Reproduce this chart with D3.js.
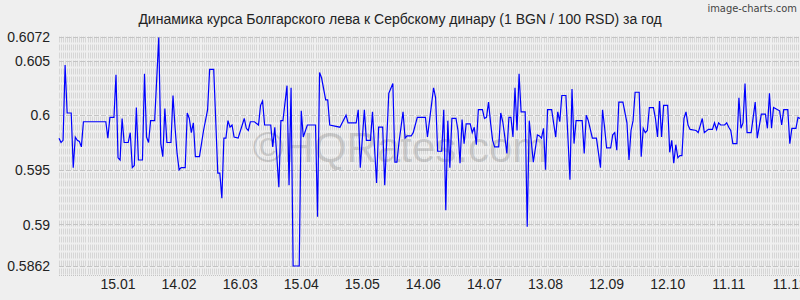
<!DOCTYPE html>
<html>
<head>
<meta charset="utf-8">
<script src="https://cdn.jsdelivr.net/npm/d3@7"></script>
<style>
  html, body { margin: 0; padding: 0; background: #efefef; }
  svg { display: block; font-family: "Liberation Sans", Arial, sans-serif; }
</style>
</head>
<body>
<div id="chart"></div>
<script>
// Курс BGN / 100 RSD, дневные данные за год (отсчёт в днях от 17.12.2014)
const startDate = "2014-12-17";
const endDate = "2015-12-16";

const dayIdx = [
  0, 1, 2, 3, 4, 6, 7, 8, 9, 10, 11, 12, 23, 24, 25, 27, 28, 29, 30, 31,
  32, 34, 35, 36, 37, 38, 39, 41, 42, 43, 44, 45, 47, 49, 50, 51, 52, 53, 55, 56,
  57, 58, 59, 60, 62, 63, 64, 65, 66, 67, 69, 71, 73, 74, 76, 78, 79, 80, 81, 82,
  83, 84, 85, 86, 88, 91, 92, 93, 94, 96, 98, 99, 100, 101, 104, 105, 106, 107, 108, 109,
  110, 112, 113, 114, 115, 118, 119, 120, 122, 126, 127, 128, 129, 131, 132, 133, 138, 141, 142, 146,
  147, 148, 150, 151, 153, 154, 156, 157, 159, 160, 162, 164, 165, 166, 167, 169, 170, 171, 173, 174,
  176, 180, 181, 184, 185, 186, 188, 189, 190, 191, 192, 193, 195, 196, 197, 198, 199, 200, 202, 203,
  204, 205, 206, 208, 209, 210, 211, 212, 213, 214, 216, 217, 218, 219, 220, 221, 222, 223, 224, 225,
  226, 227, 229, 230, 231, 233, 235, 236, 237, 238, 239, 240, 242, 244, 245, 246, 247, 249, 251, 252,
  253, 254, 257, 258, 259, 260, 262, 264, 266, 267, 268, 269, 271, 272, 273, 274, 275, 277, 279, 280,
  281, 282, 283, 285, 286, 287, 288, 289, 290, 292, 293, 294, 295, 296, 297, 299, 300, 301, 302, 303,
  304, 305, 306, 307, 308, 309, 310, 313, 314, 316, 317, 319, 321, 322, 323, 324, 325, 327, 328, 329,
  330, 331, 333, 334, 335, 336, 337, 338, 340, 342, 343, 345, 347, 348, 349, 350, 351, 353, 354, 355,
  356, 358, 359, 360, 362, 363, 364
];

const rates = [
  0.5979, 0.5975, 0.5977, 0.6046, 0.6002, 0.6002, 0.5952, 0.5980, 0.5977, 0.5976, 0.5971, 0.5994, 0.5994, 0.5979, 0.5998, 0.5998, 0.6037, 0.5961, 0.5959, 0.5997,
  0.5975, 0.5975, 0.5984, 0.5952, 0.5954, 0.6007, 0.5959, 0.5959, 0.6038, 0.5980, 0.5975, 0.5995, 0.5995, 0.6071, 0.5974, 0.5962, 0.6006, 0.5975, 0.5975, 0.6018,
  0.5989, 0.5965, 0.5950, 0.5952, 0.5952, 0.6002, 0.5997, 0.5984, 0.5993, 0.5962, 0.5962, 0.5986, 0.6005, 0.6042, 0.6042, 0.5947, 0.5947, 0.5924, 0.5979, 0.5979,
  0.5995, 0.5989, 0.5991, 0.5980, 0.5979, 0.5997, 0.5988, 0.5986, 0.5994, 0.5994, 0.5991, 0.6009, 0.6013, 0.5991, 0.5991, 0.5971, 0.5989, 0.5962, 0.5934, 0.5995,
  0.5995, 0.6027, 0.5936, 0.6025, 0.5862, 0.5862, 0.6004, 0.5980, 0.5991, 0.5991, 0.5907, 0.6039, 0.6034, 0.6014, 0.6014, 0.5991, 0.5989, 0.6000, 0.5993, 0.5993,
  0.6005, 0.5952, 0.6005, 0.5977, 0.5977, 0.6003, 0.5938, 0.5989, 0.5989, 0.5936, 0.6020, 0.6029, 0.5957, 0.5957, 0.5975, 0.6003, 0.5979, 0.5981, 0.5981, 0.5984,
  0.5998, 0.5998, 0.5980, 0.6025, 0.6016, 0.5967, 0.5967, 0.6005, 0.5913, 0.5995, 0.5952, 0.5997, 0.5997, 0.5986, 0.5956, 0.5996, 0.5974, 0.5992, 0.5992, 0.5984,
  0.5989, 0.5973, 0.6005, 0.6005, 0.5997, 0.5998, 0.6012, 0.5993, 0.5977, 0.5971, 0.5971, 0.6002, 0.5994, 0.5980, 0.5965, 0.5998, 0.5998, 0.5980, 0.6025, 0.5986,
  0.6038, 0.6003, 0.6003, 0.5898, 0.5995, 0.5957, 0.5982, 0.5981, 0.5979, 0.5988, 0.5950, 0.6005, 0.6005, 0.5980, 0.6003, 0.5994, 0.6018, 0.6018, 0.5941, 0.6024,
  0.5974, 0.5995, 0.5995, 0.5965, 0.6000, 0.5995, 0.5979, 0.5979, 0.5952, 0.6005, 0.5989, 0.5970, 0.5970, 0.5982, 0.5984, 0.5968, 0.6012, 0.6012, 0.5993, 0.5959,
  0.5986, 0.5995, 0.6021, 0.6021, 0.5962, 0.5988, 0.5984, 0.5986, 0.6007, 0.6007, 0.5997, 0.5980, 0.6013, 0.5980, 0.6009, 0.6009, 0.5966, 0.5977, 0.5956, 0.5973,
  0.5961, 0.5963, 0.5963, 0.5997, 0.6003, 0.5991, 0.5987, 0.5986, 0.5984, 0.5997, 0.5984, 0.5987, 0.5987, 0.5993, 0.5987, 0.5993, 0.5991, 0.5991, 0.5993, 0.5989,
  0.5986, 0.5974, 0.5974, 0.6016, 0.5988, 0.5993, 0.6029, 0.5984, 0.5984, 0.6012, 0.5979, 0.6001, 0.6001, 0.5988, 0.6020, 0.5988, 0.6007, 0.6005, 0.6004, 0.5991,
  0.6005, 0.6005, 0.5974, 0.5988, 0.5988, 0.5998, 0.5997
];

const yTicks = [0.5862, 0.59, 0.595, 0.6, 0.605, 0.6072];
const yTickLabels = ["0.5862", "0.59", "0.595", "0.6", "0.605", "0.6072"];
const xTickLabels = ["15.01", "14.02", "16.03", "15.04", "15.05", "14.06", "14.07", "13.08", "12.09", "12.10", "11.11", "11.12"];

const title = "Динамика курса Болгарского лева к Сербскому динару (1 BGN / 100 RSD) за год";
const watermark = "©HQRates.com";

const width = 800, height = 300;
const margin = { top: 36.5, right: 0, bottom: 34, left: 59 };
const gridBottom = 275;

const parseISO = d3.utcParse("%Y-%m-%d");
const parseLabel = d3.utcParse("%d.%m.%Y");
const t0 = parseISO(startDate);
const data = dayIdx.map((d, i) => ({ date: d3.utcDay.offset(t0, d), value: rates[i] }));

const svg = d3.select("#chart").append("svg")
  .attr("width", width)
  .attr("height", height);

svg.append("rect")
  .attr("width", width).attr("height", height)
  .attr("fill", "#efefef");

const x = d3.scaleUtc()
  .domain([t0, parseISO(endDate)])
  .range([margin.left, width - margin.right]);

const y = d3.scaleLinear()
  .domain([0.5862, 0.6072])
  .range([266, margin.top]);

// Vertical dashed grid, one line per day
const days = d3.utcDay.range(t0, d3.utcDay.offset(parseISO(endDate), 1));
svg.append("g")
  .selectAll("line")
  .data(days)
  .join("line")
  .attr("x1", d => Math.round(x(d)) + 0.5)
  .attr("x2", d => Math.round(x(d)) + 0.5)
  .attr("y1", margin.top)
  .attr("y2", gridBottom)
  .attr("stroke", "#d6d6d6")
  .attr("stroke-width", 1)
  .attr("stroke-dasharray", "6,2");

// Horizontal dashed lines at value ticks
svg.append("g")
  .selectAll("line")
  .data(yTicks)
  .join("line")
  .attr("x1", margin.left)
  .attr("x2", width)
  .attr("y1", d => Math.round(y(d)) + 0.5)
  .attr("y2", d => Math.round(y(d)) + 0.5)
  .attr("stroke", "#c4c4c4")
  .attr("stroke-dasharray", "5,2");

svg.append("line")
  .attr("x1", margin.left).attr("x2", width)
  .attr("y1", gridBottom + 0.5).attr("y2", gridBottom + 0.5)
  .attr("stroke", "#c4c4c4")
  .attr("stroke-dasharray", "1,1");

// Watermark
svg.append("text")
  .attr("x", 400)
  .attr("y", 162)
  .attr("text-anchor", "middle")
  .attr("font-size", "42px")
  .attr("fill", "#8c8c8c")
  .attr("fill-opacity", 0.35)
  .text(watermark);

// Y labels
svg.append("g")
  .selectAll("text")
  .data(yTicks)
  .join("text")
  .attr("x", 50)
  .attr("y", d => y(d))
  .attr("dy", "0.36em")
  .attr("text-anchor", "end")
  .attr("font-size", "14px")
  .attr("fill", "#222")
  .text((d, i) => yTickLabels[i]);

// X labels
svg.append("g")
  .selectAll("text")
  .data(xTickLabels)
  .join("text")
  .attr("x", d => x(parseLabel(d + ".2015")))
  .attr("y", 289)
  .attr("text-anchor", "middle")
  .attr("font-size", "14px")
  .attr("fill", "#222")
  .text(d => d);

// Line
const line = d3.line()
  .x(d => x(d.date))
  .y(d => y(d.value));

svg.append("path")
  .datum(data)
  .attr("fill", "none")
  .attr("stroke", "#0000ff")
  .attr("stroke-width", 1.2)
  .attr("stroke-linejoin", "miter")
  .attr("d", line);

// Title
svg.append("text")
  .attr("x", 400)
  .attr("y", 24)
  .attr("text-anchor", "middle")
  .attr("font-size", "14px")
  .attr("fill", "#222")
  .text(title);

svg.append("text")
  .attr("x", 797)
  .attr("y", 12)
  .attr("text-anchor", "end")
  .attr("font-size", "11px")
  .attr("font-family", "'Liberation Sans Narrow', 'DejaVu Sans Condensed', sans-serif")
  .attr("fill", "#444")
  .text("image-charts.com");
</script>
</body>
</html>
